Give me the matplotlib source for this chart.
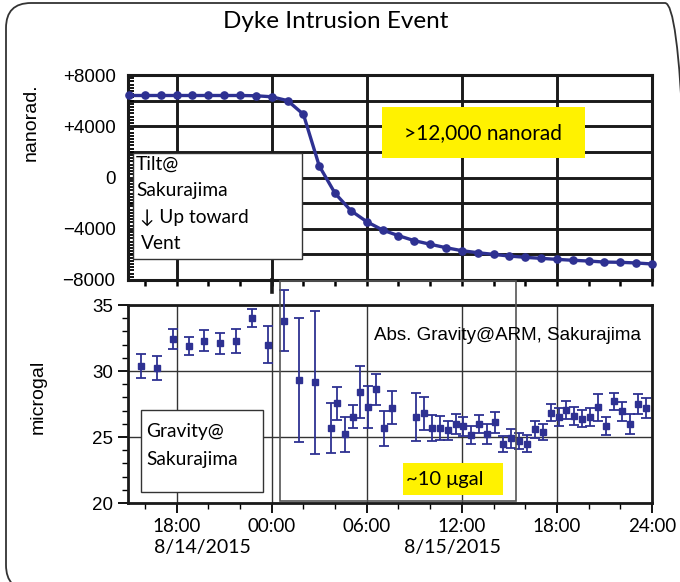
import matplotlib
matplotlib.use('Agg')
import matplotlib.pyplot as plt
from matplotlib.patches import Rectangle, FancyBboxPatch
from matplotlib.transforms import IdentityTransform
from matplotlib.ticker import MultipleLocator

W, H = 680, 582

# hours relative to 00:00 on 8/15/2015
tilt_hours = list(range(-9, 25))
tilt_nrad = [6400, 6400, 6400, 6400, 6400, 6400, 6400, 6400, 6380, 6300,
             6000, 4930, 900, -1240, -2590, -3450, -4100, -4540, -4930, -5210,
             -5480, -5710, -5870, -6000, -6130, -6230, -6310, -6390, -6460, -6520,
             -6600, -6620, -6670, -6750]

grav_hours = [-8.25, -7.25, -6.25, -5.25, -4.25, -3.25, -2.25, -1.25, -0.25, 0.75,
              1.75, 2.75, 3.75, 4.1, 4.6, 5.1, 5.6, 6.1, 6.6, 7.1,
              7.6, 9.1, 9.6, 10.1, 10.6, 11.1, 11.6, 12.1, 12.6, 13.1,
              13.6, 14.1, 14.6, 15.1, 15.6, 16.1, 16.6, 17.1, 17.6, 18.1,
              18.6, 19.1, 19.6, 20.1, 20.6, 21.1, 21.6, 22.1, 22.6, 23.1, 23.6]
grav_ugal = [30.4, 30.25, 32.4, 31.9, 32.3, 32.1, 32.3, 34.0, 32.0, 33.8,
             29.3, 29.15, 25.7, 27.55, 25.2, 26.55, 28.4, 27.25, 28.6, 25.65,
             27.2, 26.5, 26.8, 25.7, 25.7, 25.5, 26.0, 25.8, 25.15, 26.0,
             25.2, 26.1, 24.5, 24.9, 24.7, 24.5, 25.6, 25.4, 26.85, 26.5,
             27.05, 26.6, 26.4, 26.5, 27.25, 25.85, 27.7, 26.95, 26.0, 27.5, 27.2]
grav_err = [0.9, 0.9, 0.75, 0.7, 0.8, 0.8, 0.9, 0.7, 1.4, 2.3,
            4.7, 5.4, 1.9, 1.25, 1.3, 0.85, 1.95, 1.6, 1.15, 1.3,
            1.25, 1.8, 1.25, 1.0, 0.9, 0.7, 0.75, 0.7, 0.7, 0.7,
            0.75, 0.8, 0.6, 0.7, 0.6, 0.65, 0.65, 0.6, 0.65, 0.7,
            0.65, 0.7, 0.65, 0.7, 1.0, 0.7, 0.65, 0.7, 0.75, 0.75, 0.75]

xtick_hours = [-6, 0, 6, 12, 18, 24]
xtick_labels = ['18:00', '00:00', '06:00', '12:00', '18:00', '24:00']
tilt_ticks = [8000, 4000, 0, -4000, -8000]
tilt_tick_labels = ['+8000', '+4000', '0', '\u22124000', '\u22128000']
grav_ticks = [20, 25, 30, 35]

blue = '#2E3192'
yellow = '#FFF200'
myriad = ['Lato', 'DejaVu Sans']
arial = 'Liberation Sans'


def box(x0, y0, x1, y1):
    # pixel box measured from the top-left corner -> figure fractions
    return [x0 / W, 1 - y1 / H, (x1 - x0) / W, (y1 - y0) / H]


def fx(x):
    return x / W


def fy(y):
    return 1 - y / H


fig = plt.figure(figsize=(W / 100, H / 100), dpi=100)
ax1 = fig.add_axes(box(128, 75, 652, 280))
ax2 = fig.add_axes(box(128, 305, 652, 503))

# ---- tilt panel
ax1.plot(tilt_hours, tilt_nrad, '-o', color=blue, lw=2.4, ms=5.2, clip_on=False, zorder=5)
ax1.set_xlim(-9.07, 24)
ax1.set_ylim(-8000, 8000)
for v in range(-6000, 8000, 2000):
    ax1.axhline(v, color='#1a1a1a', lw=2.1, zorder=1)
for h in xtick_hours[:-1]:
    ax1.axvline(h, color='#1a1a1a', lw=2.1, zorder=1)
ax1.set_yticks(tilt_ticks, tilt_tick_labels, fontfamily=arial, fontsize=13.5)
ax1.yaxis.set_minor_locator(MultipleLocator(250))
ax1.tick_params(axis='y', which='major', length=0, pad=9)
ax1.tick_params(axis='y', which='minor', direction='in', length=4, width=1.3)
ax1.set_xticks(range(-8, 25, 2))
ax1.tick_params(axis='x', which='major', direction='out', length=4, width=1.8, labelbottom=False)
ax1.plot([0, 0], [0, -0.06], transform=ax1.get_xaxis_transform(), color='#1a1a1a',
         lw=2.6, clip_on=False)
for s in ax1.spines.values():
    s.set_linewidth(2.2)
    s.set_color('#1a1a1a')

# ---- gravity panel
eb = ax2.errorbar(grav_hours, grav_ugal, yerr=grav_err, fmt='s', color=blue, ms=4.6,
                  capsize=3.5, elinewidth=1.3, capthick=1.3, zorder=5)
for art in [eb.lines[0], *eb.lines[1], *eb.lines[2]]:
    art.set_clip_on(False)
ax2.set_xlim(-9.07, 24)
ax2.set_ylim(20, 35)
ax2.set_yticks(grav_ticks, [str(t) for t in grav_ticks], fontfamily=arial, fontsize=13.5)
ax2.yaxis.set_minor_locator(MultipleLocator(1))
ax2.set_xticks(xtick_hours, xtick_labels, fontfamily=myriad, fontsize=13.5)
ax2.xaxis.set_minor_locator(MultipleLocator(2))
ax2.tick_params(which='major', direction='out', length=7, width=1.3, pad=4)
ax2.tick_params(which='minor', direction='out', length=4, width=1.0)
ax2.grid(True, which='major', color='#333333', lw=1.0)
for s in ax2.spines.values():
    s.set_linewidth(2.0)
    s.set_color('#1a1a1a')

ax2.text(-4.4, -0.227, '8/14/2015', transform=ax2.get_xaxis_transform(),
         ha='center', va='center', fontsize=14, family=myriad)
ax2.text(11.4, -0.227, '8/15/2015', transform=ax2.get_xaxis_transform(),
         ha='center', va='center', fontsize=14, family=myriad)

# ---- labels and annotation boxes
fig.text(fx(336), fy(21), 'Dyke Intrusion Event', ha='center', va='center',
         fontsize=17.5, family=myriad)
fig.text(fx(31), fy(122), 'nanorad.', rotation=90, ha='center', va='center',
         fontsize=14, family=arial)
fig.text(fx(38), fy(397), 'microgal', rotation=90, ha='center', va='center',
         fontsize=14, family=arial)

fig.add_artist(Rectangle(box(280, 281, 516, 501)[:2], 236 / W, 220 / H,
                         transform=fig.transFigure, fill=False, ec='#555555', lw=1.2, zorder=2))

fig.add_artist(Rectangle(box(133, 153, 302, 259)[:2], 169 / W, 106 / H,
                         transform=fig.transFigure, fc='white', ec='#333333', lw=1.0, zorder=3))
tilt_lines = [('Tilt@', 136), ('Sakurajima', 136), ('\u2193 Up toward', 140), ('Vent', 141)]
for i, (line, x0) in enumerate(tilt_lines):
    fig.text(fx(x0), fy(164 + 26.5 * i), line, ha='left', va='center',
             fontsize=13.8, family=myriad, zorder=4)

fig.add_artist(Rectangle(box(141, 410, 263, 492)[:2], 122 / W, 82 / H,
                         transform=fig.transFigure, fc='white', ec='#333333', lw=1.0, zorder=3))
for i, line in enumerate(['Gravity@', 'Sakurajima']):
    fig.text(fx(146), fy(432 + 28 * i), line, ha='left', va='center',
             fontsize=13.8, family=myriad, zorder=4)

fig.add_artist(Rectangle(box(382, 107, 585, 158)[:2], 203 / W, 51 / H,
                         transform=fig.transFigure, fc=yellow, ec='none', zorder=3))
fig.text(fx(483), fy(133), '>12,000 nanorad', ha='center', va='center',
         fontsize=15, family=myriad, zorder=4)

fig.add_artist(Rectangle(box(403, 463, 503, 495)[:2], 100 / W, 32 / H,
                         transform=fig.transFigure, fc=yellow, ec='none', zorder=3))
fig.text(fx(406), fy(479), '~10 \u03bcgal', ha='left', va='center',
         fontsize=14.5, family=myriad, zorder=4)

fig.text(fx(508), fy(335), 'Abs. Gravity@ARM, Sakurajima', ha='center', va='center',
         fontsize=13.5, family=arial, zorder=4)

fig.add_artist(FancyBboxPatch((6, -8), 684, 587, boxstyle='round,pad=0,rounding_size=25',
                              transform=IdentityTransform(), fill=False, ec='#333333', lw=1.3))

fig.savefig('out.png', dpi=100)
